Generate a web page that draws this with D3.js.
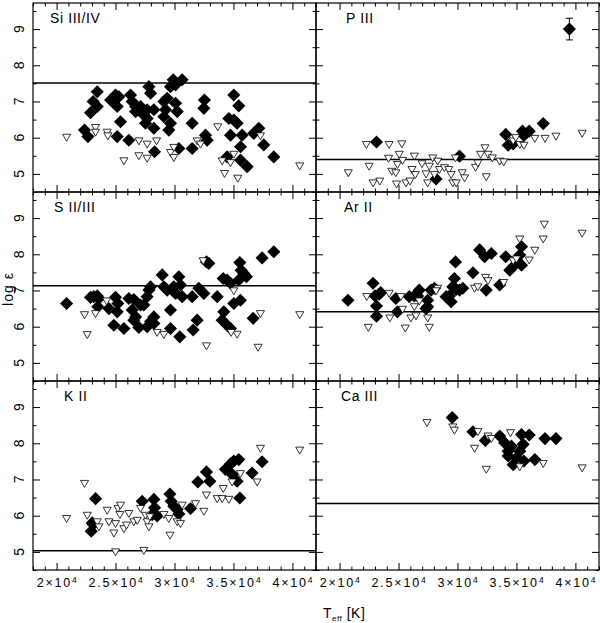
<!DOCTYPE html>
<html>
<head>
<meta charset="utf-8">
<script src="https://cdn.jsdelivr.net/npm/d3@7"></script>
<style>
  body { margin: 0; background: #fff; }
  text { font-family: "Liberation Sans", Arial, sans-serif; fill: #000; }
</style>
</head>
<body>
<svg width="600" height="623"></svg>
<script>
// panel names and solar reference abundances (horizontal lines)
var panelNames = ["Si III/IV", "P III", "S II/III", "Ar II", "K II", "Ca III"]
var solarValues = [7.51, 5.40, 7.13, 6.41, 5.03, 6.34]

var xTicks = [20000, 25000, 30000, 35000, 40000]
var xTickMantissa = ["2", "2.5", "3", "3.5", "4"]
var xTickExponent = "4"
var yTicks = [5, 6, 7, 8, 9]

// [Teff, log eps] -- filled diamonds
var siDiamonds = [
  [23450, 7.27], [23100, 7.00], [23450, 6.86], [22880, 6.69], [22370, 6.21], [22660, 6.03],
  [25000, 7.18], [24860, 7.00], [25140, 6.86], [24580, 7.04], [25280, 7.13], [25140, 6.03],
  [25420, 6.44], [26130, 5.93], [26270, 7.18], [26410, 7.00], [26700, 6.86], [26700, 6.72],
  [27120, 6.86], [27400, 6.63], [27680, 6.77], [27830, 7.41], [27970, 7.23], [27540, 6.40],
  [28250, 6.26], [28310, 5.61], [28250, 6.77], [27680, 6.53], [29100, 7.00], [29240, 6.77],
  [29100, 6.58], [29380, 7.09], [29660, 7.41], [29890, 7.60], [30090, 7.46], [30650, 7.60],
  [29660, 6.40], [29520, 6.21], [30090, 6.95], [30230, 6.72], [30370, 5.70], [31500, 6.40],
  [31500, 5.70], [32540, 7.04], [32490, 6.81], [32630, 6.07], [32770, 5.93], [35030, 7.18],
  [35450, 6.88], [34610, 6.53], [35030, 6.49], [35310, 6.40], [34750, 6.07], [35740, 6.07],
  [35600, 5.75], [34460, 5.47], [35600, 5.38], [36160, 5.20], [36720, 6.12], [37150, 6.26],
  [37570, 5.80], [38420, 5.47]
]
// open triangles
var siTriangles = [
  [20850, 6.03], [23300, 6.30], [23300, 6.17], [24290, 6.17], [24350, 6.07], [25710, 5.38],
  [26980, 5.93], [26980, 5.52], [27680, 5.84], [27680, 5.45], [28480, 5.93], [29660, 5.61],
  [29940, 5.75], [29940, 5.47], [31920, 5.93], [32200, 5.84], [33670, 6.32], [34040, 5.38],
  [34240, 5.03], [34750, 5.33], [35030, 5.56], [35370, 4.90], [37290, 6.07], [40620, 5.24]
]

var pDiamonds = [
  [23130, 5.88], [30170, 5.49], [28180, 4.86], [34090, 6.09], [34290, 5.79], [34720, 5.83],
  [35510, 6.18], [36080, 6.18], [35630, 6.06], [37270, 6.39], [39490, 9.00]
]
var pTriangles = [
  [20740, 5.05], [22270, 5.83], [22500, 5.23], [22840, 4.77], [23410, 4.82], [24200, 5.83],
  [24150, 5.45], [24430, 5.09], [24830, 4.74], [24910, 5.28], [25060, 5.56], [25280, 5.85],
  [25340, 5.39], [24770, 5.05], [25630, 4.77], [25970, 4.82], [26140, 5.14], [26420, 5.00],
  [26340, 5.51], [26990, 5.30], [27330, 5.02], [27470, 4.77], [27610, 5.23], [27900, 5.46],
  [28040, 5.00], [28320, 5.37], [28470, 5.14], [28890, 5.19], [29260, 5.14], [29460, 5.00],
  [29600, 4.77], [29890, 4.77], [29830, 5.46], [30400, 5.05], [30600, 4.91], [31530, 5.20],
  [31730, 5.32], [31960, 5.56], [32330, 5.74], [32590, 5.56], [32950, 5.46], [33580, 5.37],
  [33920, 5.35], [32440, 4.94], [34720, 5.93], [34940, 6.02], [35280, 5.83], [35630, 5.81],
  [36560, 6.00], [37420, 6.00], [38350, 6.06], [40570, 6.14]
]
// the single P III point with an error bar: [Teff, log eps, error]
var pErrorPoint = [39490, 9.00, 0.30]

var sDiamonds = [
  [20850, 6.64], [23160, 6.83], [23450, 6.85], [23590, 6.78], [23500, 6.55], [22880, 6.81],
  [24440, 6.50], [25000, 6.81], [25140, 6.41], [24860, 6.04], [25710, 5.95], [25200, 6.64],
  [26130, 6.78], [26550, 6.75], [26410, 6.46], [26700, 6.27], [26550, 6.18], [26980, 5.98],
  [27120, 6.60], [27400, 6.60], [27680, 6.83], [27830, 7.01], [27970, 7.10], [27970, 6.14],
  [27680, 6.00], [28250, 6.27], [28250, 6.09], [28960, 7.43], [29100, 7.10], [29380, 7.01],
  [29660, 5.95], [29660, 6.46], [29940, 7.10], [30090, 6.92], [30370, 7.38], [30510, 7.15],
  [30650, 6.83], [30450, 5.72], [31500, 6.83], [31580, 5.91], [31920, 6.18], [32060, 7.06],
  [32490, 6.92], [32710, 7.79], [32910, 7.75], [33620, 6.83], [34130, 7.33], [34460, 7.29],
  [34750, 7.20], [34040, 6.18], [34180, 6.41], [34460, 6.04], [34750, 5.95], [35030, 6.64],
  [35590, 6.73], [35540, 7.77], [35650, 7.56], [35880, 7.47], [36100, 7.38], [35450, 7.29],
  [36670, 6.23], [37430, 7.90], [38420, 8.07]
]
var sTriangles = [
  [22370, 6.35], [22600, 5.80], [23300, 6.38], [24240, 6.73], [28530, 5.86], [29100, 5.80],
  [32430, 7.84], [32710, 5.49], [35030, 7.01], [35310, 5.81], [34800, 5.86], [37290, 6.38],
  [37090, 5.45], [40620, 6.35]
]

var arDiamonds = [
  [20710, 6.73], [22840, 7.20], [23010, 6.85], [23350, 6.90], [23490, 6.94], [23130, 6.57],
  [23130, 6.29], [24770, 6.78], [24910, 6.41], [25910, 6.83], [26340, 6.85], [26760, 7.01],
  [26620, 6.85], [27330, 6.50], [27470, 6.73], [27760, 7.01], [28040, 7.06], [27470, 6.55],
  [29030, 6.83], [29320, 6.85], [29460, 6.69], [29740, 7.33], [29830, 7.79], [29890, 7.03],
  [30170, 7.01], [30450, 7.06], [29600, 7.10], [31310, 7.49], [31880, 8.12], [32300, 7.93],
  [32870, 8.02], [32440, 7.01], [33580, 7.15], [34090, 7.93], [34430, 7.56], [34720, 7.66],
  [35000, 7.84], [35430, 8.21], [35430, 7.70], [35280, 7.98]
]
var arTriangles = [
  [22300, 6.85], [22440, 6.00], [24200, 6.94], [24260, 6.26], [25200, 6.85], [25340, 6.50],
  [25570, 5.98], [26050, 6.26], [26480, 6.32], [26340, 6.57], [26760, 6.73], [27470, 6.26],
  [27610, 6.00], [28320, 7.08], [28180, 7.01], [31450, 7.08], [31730, 7.12], [32390, 7.38],
  [32590, 7.29], [33920, 7.24], [34720, 7.84], [35000, 7.89], [35280, 8.44], [36080, 7.86],
  [36560, 8.13], [37270, 8.44], [37360, 8.85], [40570, 8.60]
]

var kDiamonds = [
  [23310, 6.47], [23020, 5.80], [22940, 5.57], [23110, 5.76], [27260, 6.40], [28250, 6.45],
  [28310, 6.22], [28530, 5.99], [28110, 6.03], [29610, 6.60], [29720, 6.40], [29940, 6.26],
  [30230, 6.17], [30370, 6.05], [31360, 6.20], [31980, 6.93], [32710, 7.21], [33000, 6.95],
  [34320, 7.28], [34750, 7.43], [35030, 7.51], [35450, 7.55], [34890, 7.14], [35310, 6.95],
  [35540, 6.49], [36580, 7.18], [37430, 7.49]
]
var kTriangles = [
  [20850, 5.94], [22370, 6.91], [22600, 6.03], [23450, 5.85], [23590, 5.71], [24290, 6.17],
  [24440, 5.85], [24860, 5.54], [25000, 5.80], [25000, 5.02], [25200, 6.22], [25370, 6.05],
  [25420, 6.31], [25710, 5.66], [26130, 6.08], [25930, 5.76], [26550, 5.85], [26840, 5.89],
  [27120, 6.22], [27540, 6.03], [27680, 5.85], [27830, 5.71], [27400, 5.06], [27910, 5.99],
  [29100, 6.05], [29520, 5.94], [29610, 5.48], [30230, 5.85], [30510, 5.80], [30650, 6.31],
  [31780, 6.35], [32490, 6.14], [32710, 6.59], [33620, 6.49], [34040, 6.49], [34610, 6.47],
  [34130, 6.77], [34890, 6.95], [35590, 7.18], [37010, 6.95], [37290, 7.88], [40620, 7.83]
]

var caDiamonds = [
  [29550, 8.71], [31310, 8.32], [32360, 8.08], [33580, 8.20], [34010, 8.01], [34290, 7.78],
  [34570, 7.92], [34720, 7.41], [35000, 7.60], [35280, 7.78], [35430, 8.24], [35570, 7.97],
  [35630, 7.51], [36080, 8.23], [36560, 7.55], [37420, 8.13], [38350, 8.13], [34290, 7.65]
]
var caTriangles = [
  [27410, 8.59], [29600, 8.47], [29740, 8.38], [31450, 7.88], [31730, 8.34], [32590, 8.22],
  [32870, 8.15], [32440, 7.30], [34490, 8.31], [35280, 7.37], [37270, 7.46], [40570, 7.34]
]

var panelDiamonds = [siDiamonds, pDiamonds, sDiamonds, arDiamonds, kDiamonds, caDiamonds]
var panelTriangles = [siTriangles, pTriangles, sTriangles, arTriangles, kTriangles, caTriangles]

/* layout: 3 rows x 2 columns of touching panels */
var colLeft = [33, 316]
var rowTop = [3, 192, 381]
var pw = 283
var ph = 189
var labelDx = [17, 30, 21, 28, 31, 25]

var svg = d3.select('svg')

var x = d3.scaleLinear().domain([18000, 42000]).range([0, pw])
var y = d3.scaleLinear().domain([4.5, 9.72]).range([ph, 0])

var xMinor = d3.range(18000, 42001, 1000).filter(function (t) { return t % 5000 !== 0 })
var yMinor = d3.range(4.5, 9.6, 1)

var diamond = d3.symbol().type(d3.symbolSquare).size(86)
var triangle = d3.symbol().type(d3.symbolTriangle).size(28)

function drawTicks(g, axis) {
  g.call(axis)
  g.select('.domain').remove()
  g.selectAll('line').attr('stroke', '#000').attr('stroke-width', 1)
  g.selectAll('text').remove()
}

panelNames.forEach(function (name, i) {
  var col = i % 2
  var row = Math.floor(i / 2)
  var g = svg.append('g').attr('transform', 'translate(' + colLeft[col] + ',' + rowTop[row] + ')')

  // ticks on all four sides, pointing inward
  var sides = [
    [d3.axisBottom, x, 'translate(0,' + ph + ')'],
    [d3.axisTop, x, 'translate(0,0)'],
    [d3.axisLeft, y, 'translate(0,0)'],
    [d3.axisRight, y, 'translate(' + pw + ',0)']
  ]
  sides.forEach(function (s) {
    var isX = s[1] === x
    var major = s[0](s[1]).tickValues(isX ? xTicks : yTicks).tickSizeInner(-7).tickSizeOuter(0)
    var minor = s[0](s[1]).tickValues(isX ? xMinor : yMinor).tickSizeInner(-3.5).tickSizeOuter(0)
    drawTicks(g.append('g').attr('transform', s[2]), major)
    drawTicks(g.append('g').attr('transform', s[2]), minor)
  })

  g.append('rect')
    .attr('width', pw).attr('height', ph)
    .attr('fill', 'none').attr('stroke', '#000').attr('stroke-width', 1.2)

  // solar value
  g.append('line')
    .attr('x1', 0).attr('x2', pw)
    .attr('y1', y(solarValues[i])).attr('y2', y(solarValues[i]))
    .attr('stroke', '#000').attr('stroke-width', 1.5)

  g.append('text')
    .attr('x', labelDx[i]).attr('y', 20)
    .attr('font-size', 14).attr('letter-spacing', 0.6)
    .text(name)

  var pts = g.append('g')
  pts.selectAll('path.dia')
    .data(panelDiamonds[i])
    .enter().append('path')
      .attr('class', 'dia')
      .attr('d', diamond)
      .attr('fill', '#000')
      .attr('transform', function (d) { return 'translate(' + x(d[0]) + ',' + y(d[1]) + ') rotate(45)' })

  pts.selectAll('path.tri')
    .data(panelTriangles[i])
    .enter().append('path')
      .attr('class', 'tri')
      .attr('d', triangle)
      .attr('fill', '#fff').attr('stroke', '#000').attr('stroke-width', 0.8)
      .attr('transform', function (d) { return 'translate(' + x(d[0]) + ',' + y(d[1]) + ') rotate(180)' })

  if (name === 'P III') {
    var ex = x(pErrorPoint[0])
    var eTop = y(pErrorPoint[1] + pErrorPoint[2])
    var eBot = y(pErrorPoint[1] - pErrorPoint[2])
    pts.append('line').attr('x1', ex).attr('x2', ex).attr('y1', eTop).attr('y2', eBot)
      .attr('stroke', '#000').attr('stroke-width', 1)
    ;[eTop, eBot].forEach(function (yy) {
      pts.append('line').attr('x1', ex - 3.5).attr('x2', ex + 3.5).attr('y1', yy).attr('y2', yy)
        .attr('stroke', '#000').attr('stroke-width', 1)
    })
  }

  // y tick labels, rotated, only in left column
  if (col === 0) {
    yTicks.forEach(function (t) {
      g.append('text')
        .attr('transform', 'translate(-9,' + y(t) + ') rotate(-90)')
        .attr('text-anchor', 'middle')
        .attr('font-size', 14)
        .text(t)
    })
  }

  // x tick labels only in the bottom row
  if (row === 2) {
    xTicks.forEach(function (t, k) {
      var lab = g.append('text')
        .attr('x', x(t) + 1).attr('y', ph + 17)
        .attr('text-anchor', 'middle')
        .attr('font-size', 12.5).attr('letter-spacing', 1.8)
      lab.append('tspan').text(xTickMantissa[k] + '×10')
      lab.append('tspan').attr('dy', -4.5).attr('font-size', 8.5).text(xTickExponent)
    })
  }
})

// axis titles
svg.append('text')
  .attr('transform', 'translate(13,289) rotate(-90)')
  .attr('text-anchor', 'middle')
  .attr('font-size', 14).attr('letter-spacing', 1)
  .text('log ε')

var xt = svg.append('text')
  .attr('x', 323).attr('y', 618)
  .attr('font-size', 14).attr('letter-spacing', 0.5)
xt.append('tspan').text('T')
xt.append('tspan').attr('dy', 3).attr('font-size', 8).text('eff')
xt.append('tspan').attr('dy', -3).text(' [K]')
</script>
</body>
</html>
